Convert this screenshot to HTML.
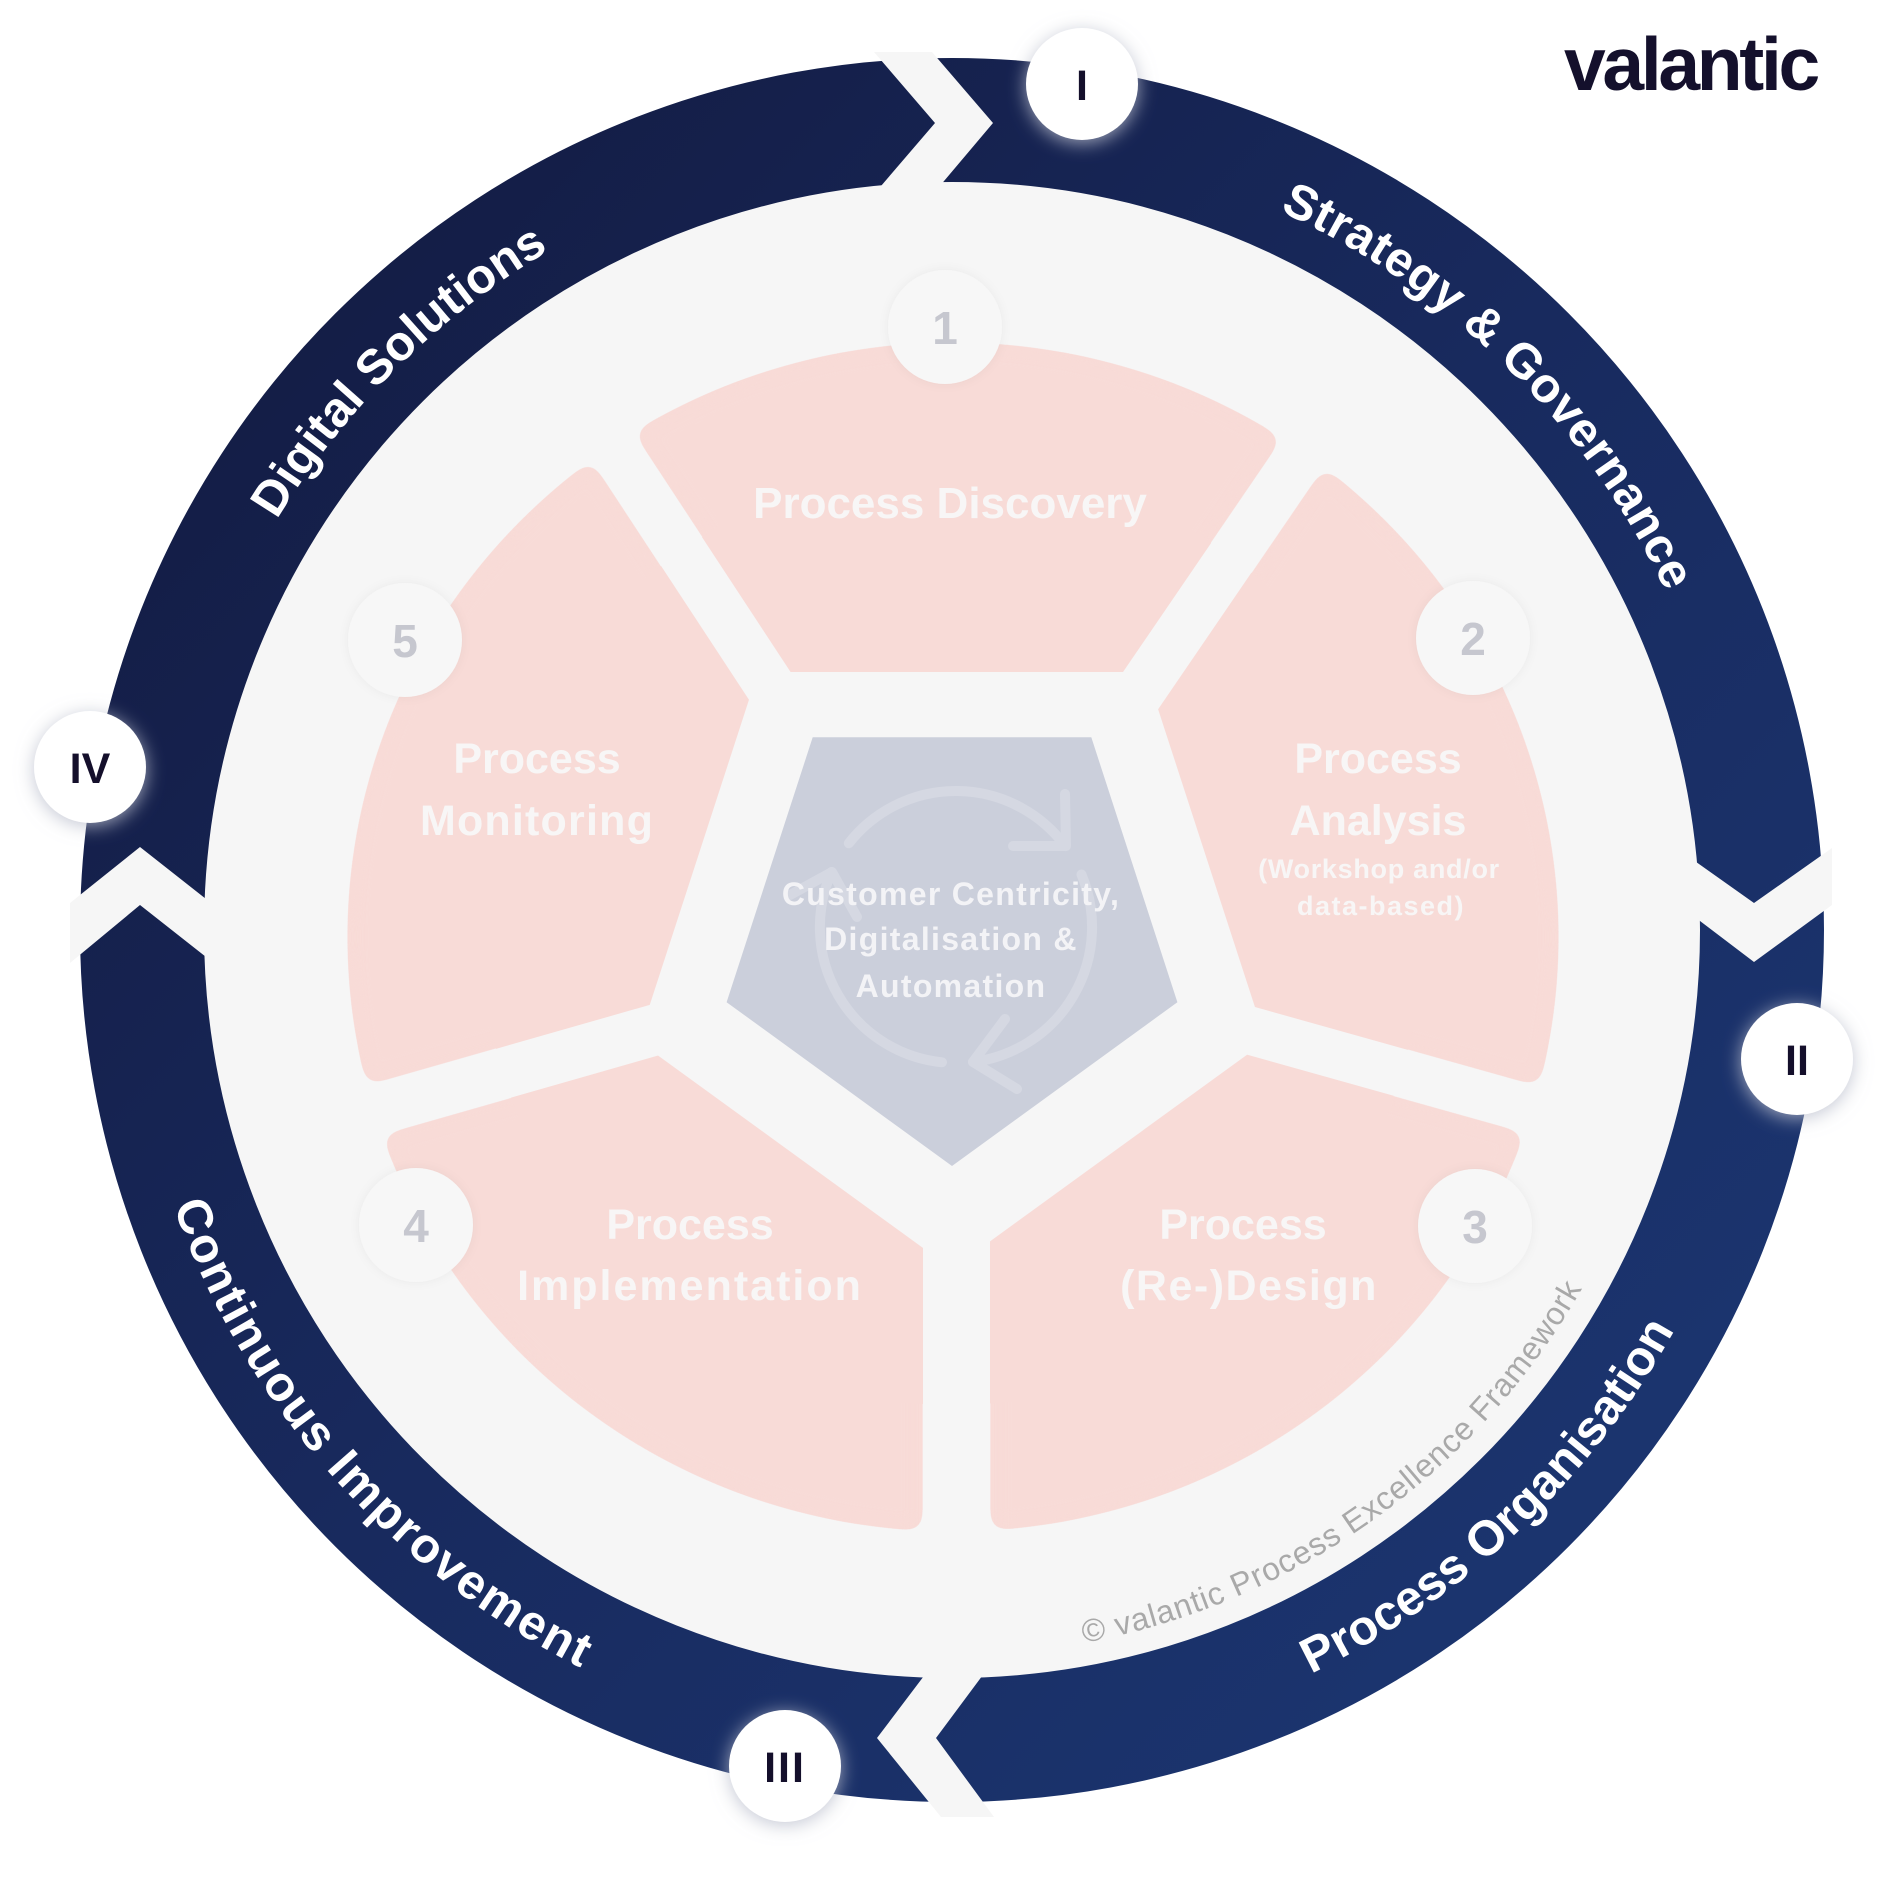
<!DOCTYPE html>
<html>
<head>
<meta charset="utf-8">
<style>
  html,body{margin:0;padding:0;background:#ffffff;}
  svg{display:block;}
  text{font-family:"Liberation Sans", Arial, sans-serif;}
</style>
</head>
<body>
<svg width="1877" height="1877" viewBox="0 0 1877 1877" xmlns="http://www.w3.org/2000/svg">
  <defs>
    <linearGradient id="rg" gradientUnits="userSpaceOnUse" x1="150" y1="150" x2="1750" y2="1700">
      <stop offset="0" stop-color="#131a40"/>
      <stop offset="0.5" stop-color="#182a5e"/>
      <stop offset="1" stop-color="#1c3773"/>
    </linearGradient>
    <filter id="sh" x="-60%" y="-60%" width="220%" height="220%">
      <feDropShadow dx="0" dy="3" stdDeviation="9" flood-color="#b9bdcc" flood-opacity="0.85"/>
    </filter>
    <filter id="sh2" x="-60%" y="-60%" width="220%" height="220%">
      <feDropShadow dx="0" dy="0" stdDeviation="5" flood-color="#000000" flood-opacity="0.05"/>
    </filter>
    <filter id="goo" filterUnits="userSpaceOnUse" x="0" y="0" width="1877" height="1877" color-interpolation-filters="sRGB">
      <feGaussianBlur in="SourceGraphic" stdDeviation="9" result="b"/>
      <feColorMatrix in="b" type="matrix" values="1 0 0 0 0  0 1 0 0 0  0 0 1 0 0  0 0 0 30 -15"/>
    </filter>
    <mask id="pm" maskUnits="userSpaceOnUse" x="0" y="0" width="1877" height="1877">
      <rect x="0" y="0" width="1877" height="1877" fill="#ffffff"/>
      <polygon points="952,1269 638,1041 758,672 1146,672 1266,1041" fill="#000000"/>
      <line x1="936" y1="939" x2="551.7" y2="353.8" stroke="#000000" stroke-width="50"/>
      <line x1="971" y1="939" x2="1365.8" y2="360.8" stroke="#000000" stroke-width="50"/>
      <line x1="952" y1="947" x2="1626" y2="1136" stroke="#000000" stroke-width="48"/>
      <line x1="952" y1="945" x2="278.6" y2="1137.5" stroke="#000000" stroke-width="51"/>
      <rect x="923" y="1150" width="67" height="420" fill="#000000"/>
    </mask>
    <clipPath id="innerclip">
      <circle cx="952" cy="935" r="470"/>
    </clipPath>
    <path id="pStrat" d="M1015.4,142.5 A790,790 0 0 1 1738.5,855.7"/>
    <path id="pDig" d="M165.4,857 A790,790 0 0 1 887.3,142.7"/>
    <path id="pOrg" d="M1001,1754.5 A826,826 0 0 0 1772.5,1024.9"/>
    <path id="pCont" d="M126.3,950.9 A826,826 0 0 0 829.2,1746.8"/>
    <path id="pCopy" d="M894.5,1652.7 A725,725 0 0 0 1653.7,1112.1"/>
  </defs>

  <rect x="0" y="0" width="1877" height="1877" fill="#ffffff"/>

  <!-- inner light disc -->
  <circle cx="952" cy="930" r="752" fill="#f6f6f6"/>

  <!-- pink segments (outer corners rounded) -->
  <g filter="url(#goo)">
    <ellipse cx="953" cy="937" rx="606" ry="595" fill="#f8dbd7" mask="url(#pm)"/>
  </g>
  <!-- sharp inner corners -->
  <g clip-path="url(#innerclip)">
    <ellipse cx="953" cy="937" rx="606" ry="595" fill="#f8dbd7" mask="url(#pm)"/>
  </g>

  <!-- centre pentagon -->
  <polygon points="952,1166 726.6,1002.2 812.7,737.3 1091.3,737.3 1177.4,1002.2" fill="#cbcfdb"/>

  <!-- cycle icon -->
  <g fill="none" stroke="#d5d8e2" stroke-width="10" stroke-linecap="round" stroke-linejoin="round">
    <path d="M848.8,843.3 A136,136 0 0 1 1065.3,846.1"/>
    <path d="M1065,794 L1066,846 L1013,846"/>
    <path d="M1081.5,874.5 A136,136 0 0 1 973,1062"/>
    <path d="M1005,1019 L973,1062 L1017,1089"/>
    <path d="M942,1062.3 A136,136 0 0 1 831.5,872"/>
    <path d="M857,917 L832,872 L790,895"/>
  </g>

  <!-- centre text -->
  <g fill="#f3f3f6" font-weight="700" font-size="32" text-anchor="middle" letter-spacing="1.3">
    <text x="951" y="905">Customer Centricity,</text>
    <text x="951" y="950">Digitalisation &amp;</text>
    <text x="951" y="997">Automation</text>
  </g>

  <!-- piece labels -->
  <g fill="#f8f6f6" font-weight="700" text-anchor="middle">
    <text x="950" y="518" font-size="44">Process Discovery</text>
    <text x="1378" y="773" font-size="43">Process</text>
    <text x="1378" y="835" font-size="43">Analysis</text>
    <text x="1379" y="878" font-size="27" letter-spacing="0.7">(Workshop and/or</text>
    <text x="1381" y="915" font-size="27" letter-spacing="1.5">data-based)</text>
    <text x="537" y="773" font-size="43">Process</text>
    <text x="537" y="835" font-size="43" letter-spacing="1.2">Monitoring</text>
    <text x="690" y="1239" font-size="43">Process</text>
    <text x="690" y="1300" font-size="43" letter-spacing="2">Implementation</text>
    <text x="1243" y="1239" font-size="43">Process</text>
    <text x="1249" y="1300" font-size="43" letter-spacing="1.5">(Re-)Design</text>
  </g>

  <!-- number circles 1-5 -->
  <g filter="url(#sh2)" fill="#f7f7f7">
    <circle cx="945" cy="327" r="57"/>
    <circle cx="1473" cy="638" r="57"/>
    <circle cx="1475" cy="1226" r="57"/>
    <circle cx="416" cy="1225" r="57"/>
    <circle cx="405" cy="640" r="57"/>
  </g>
  <g fill="#c6c7cf" font-weight="700" font-size="46" text-anchor="middle">
    <text x="945" y="344">1</text>
    <text x="1473" y="655">2</text>
    <text x="1475" y="1243">3</text>
    <text x="416" y="1242">4</text>
    <text x="405" y="657">5</text>
  </g>

  <!-- copyright -->
  <text font-size="32" fill="#a9a9a9" letter-spacing="0.85" text-anchor="middle">
    <textPath href="#pCopy" startOffset="50%">© valantic Process Excellence Framework</textPath>
  </text>

  <!-- outer ring -->
  <circle cx="952" cy="930" r="810" fill="none" stroke="url(#rg)" stroke-width="124"/>

  <!-- chevron gaps -->
  <g fill="#f6f6f6">
    <polygon points="874,52 932,52 993,123 928,200 869,200 935,123"/>
    <polygon points="1832,848 1832,905 1754,962 1675,902 1675,847 1754,903"/>
    <polygon points="994,1817 941,1817 877,1738 936,1660 994,1660 936,1738"/>
    <polygon points="70,963 70,903 140,847 220,910 220,968 140,905"/>
  </g>

  <!-- ring labels -->
  <g fill="#ffffff" font-weight="700" font-size="49" text-anchor="middle">
    <text letter-spacing="0.6"><textPath href="#pStrat" startOffset="50%">Strategy &amp; Governance</textPath></text>
    <text letter-spacing="0"><textPath href="#pDig" startOffset="50%">Digital Solutions</textPath></text>
    <text letter-spacing="0.1"><textPath href="#pOrg" startOffset="50%">Process Organisation</textPath></text>
    <text letter-spacing="1.8"><textPath href="#pCont" startOffset="50%">Continuous Improvement</textPath></text>
  </g>

  <!-- roman numeral circles -->
  <g filter="url(#sh)" fill="#ffffff">
    <circle cx="1082" cy="84" r="56"/>
    <circle cx="1797" cy="1059" r="56"/>
    <circle cx="785" cy="1766" r="56"/>
    <circle cx="90" cy="767" r="56"/>
  </g>
  <g fill="#140f2b" font-weight="700" font-size="43" text-anchor="middle">
    <text x="1082" y="100">I</text>
    <text x="1797" y="1075">II</text>
    <text x="785" y="1782" letter-spacing="2">III</text>
    <text x="90" y="783">IV</text>
  </g>

  <!-- logo -->
  <text x="1564" y="90" font-size="75" font-weight="700" letter-spacing="-3.3" fill="#14102c">valantic</text>
</svg>
</body>
</html>
